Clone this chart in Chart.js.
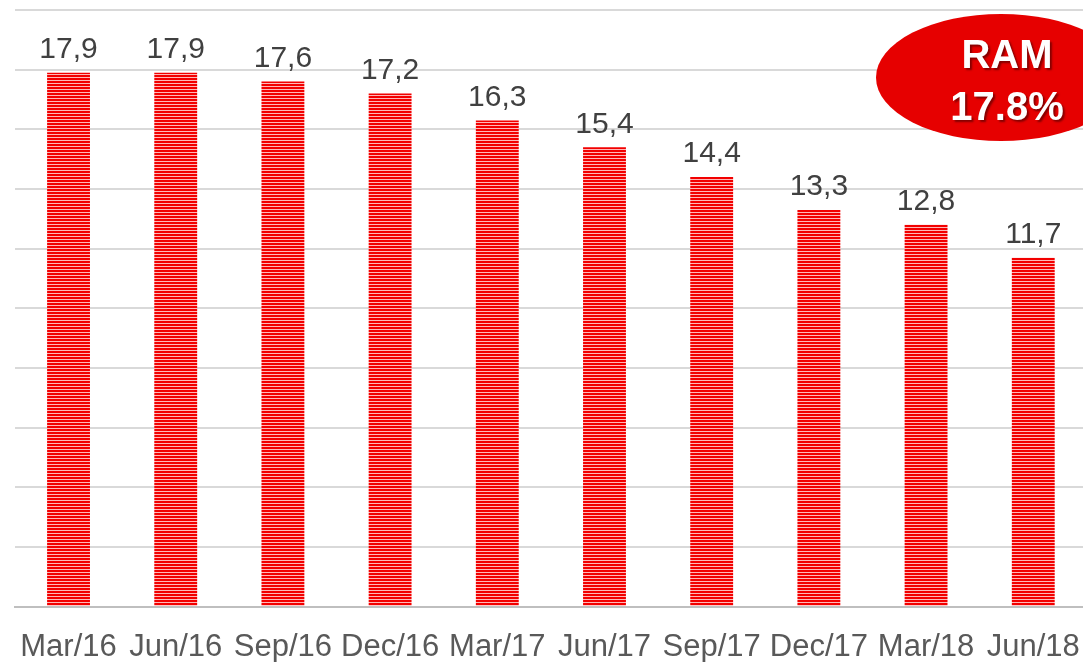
<!DOCTYPE html>
<html>
<head>
<meta charset="utf-8">
<script src="https://cdn.jsdelivr.net/npm/chart.js@4"></script>
<style>
  html, body { margin: 0; padding: 0; background: #fff; }
  #wrap { position: relative; width: 1083px; height: 662px; overflow: hidden; }
  #ramChart { position: absolute; left: -1px; top: 0; }
  #badge {
    position: absolute; left: 876px; top: 14px; width: 250px; height: 127px;
    background: #e60000; border-radius: 50%;
    color: #fff; font-family: "Liberation Sans", Arial, sans-serif; font-weight: bold;
    font-size: 40px; line-height: 46px;
    text-shadow: 2px 2px 2px rgba(90,0,0,0.7);
  }
  #badge div { position: absolute; width: 180px; left: 41px; text-align: center; }
</style>
</head>
<body>
<div id="wrap">
  <canvas id="ramChart" width="1102" height="662"></canvas>
  <div id="badge"><div style="top:17px">RAM</div><div style="top:69px">17.8%</div></div>
</div>
<script>
// Данные
const labels = ['Mar/16', 'Jun/16', 'Sep/16', 'Dec/16', 'Mar/17', 'Jun/17', 'Sep/17', 'Dec/17', 'Mar/18', 'Jun/18'];
const values = [17.9, 17.9, 17.6, 17.2, 16.3, 15.4, 14.4, 13.3, 12.8, 11.7];

// Полосатая заливка столбцов
function stripePattern() {
    const c = document.createElement('canvas');
    c.width = 4; c.height = 3;
    const g = c.getContext('2d');
    g.fillStyle = '#f20000';
    g.fillRect(0, 0, 4, 2);
    g.fillStyle = '#ffb8b8';
    g.fillRect(0, 2, 4, 1);
    return g.createPattern(c, 'repeat');
}

// Подписи значений над столбцами
const valueLabels = {
    id: 'valueLabels',
    afterDatasetsDraw(chart) {
        const ctx = chart.ctx;
        const meta = chart.getDatasetMeta(0);
        ctx.save();
        ctx.font = '30px "Liberation Sans", Arial, sans-serif';
        ctx.fillStyle = '#404040';
        ctx.textAlign = 'center';
        ctx.textBaseline = 'bottom';
        meta.data.forEach((bar, i) => {
            ctx.fillText(values[i].toFixed(1).replace('.', ','), bar.x, bar.y - 8);
        });
        ctx.restore();
    }
};

const ctx = document.getElementById('ramChart').getContext('2d');
const ramChart = new Chart(ctx, {
    type: 'bar',
    data: {
        labels: labels,
        datasets: [{
            data: values,
            backgroundColor: stripePattern(),
            borderWidth: 0,
            categoryPercentage: 1,
            barPercentage: 0.4
        }]
    },
    options: {
        responsive: false,
        animation: false,
        layout: { padding: { left: 0, top: 10, right: 0, bottom: -26 } },
        plugins: { legend: { display: false }, tooltip: { enabled: false } },
        scales: {
            x: {
                grid: { display: false, drawTicks: false },
                border: { color: '#bfbfbf', width: 2 },
                ticks: {
                    color: '#595959',
                    padding: 22,
                    maxRotation: 0,
                    autoSkip: false,
                    font: { family: '"Liberation Sans", Arial, sans-serif', size: 31 }
                }
            },
            y: {
                min: 0,
                max: 20,
                ticks: { display: false, stepSize: 2 },
                grid: { color: '#d9d9d9', lineWidth: 2, drawTicks: false },
                border: { display: false }
            }
        }
    },
    plugins: [valueLabels]
});
</script>
</body>
</html>
